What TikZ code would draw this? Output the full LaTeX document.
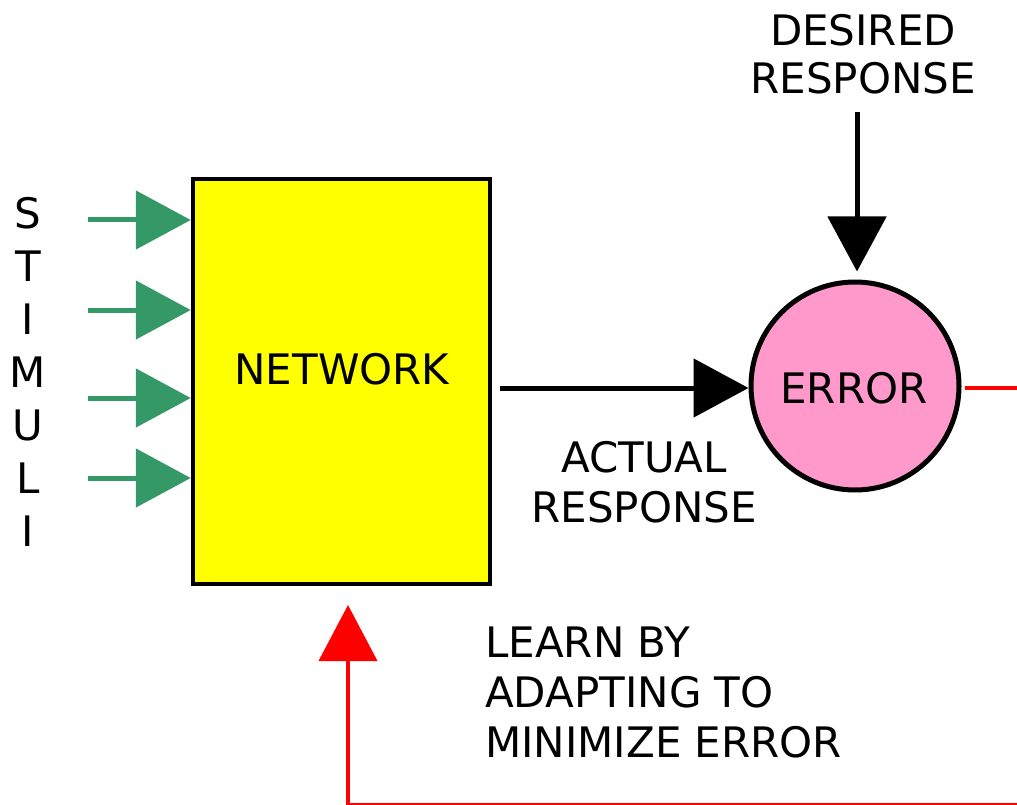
\documentclass[tikz,border=0pt]{standalone}
\usepackage{fontspec}
\setmainfont{DejaVu Sans}
\usetikzlibrary{arrows.meta}
\definecolor{stimgreen}{HTML}{349966}
\definecolor{errpink}{HTML}{FF99CC}
\definecolor{netyellow}{HTML}{FFFF00}
\tikzset{
  lbl/.style={font=\fontsize{42}{50}\selectfont, inner sep=0pt, align=center},
  garrow/.style={draw=stimgreen, line width=5pt, -{Triangle[length=55pt,width=58pt]}},
  barrow/.style={draw=black, line width=5pt, -{Triangle[length=55pt,width=58pt]}},
  rarrow/.style={draw=red, line width=4pt, -{Triangle[length=56pt,width=58pt]}},
}
\begin{document}
\begin{tikzpicture}[x=1pt,y=-1pt]
\useasboundingbox (0,0) rectangle (1017,805);
\node[draw=black, fill=netyellow, line width=4.5pt, minimum width=297pt, minimum height=405pt, inner sep=0pt] (net) at (341.5,381.5) {};
\node[lbl] (nettxt) at (342,369) {NETWORK};
\node[draw=black, fill=errpink, line width=5pt, circle, minimum size=208pt, inner sep=0pt] (err) at (855,386) {};
\node[lbl] (errtxt) at (854,388) {ERROR};
\node[lbl, font=\fontsize{42}{53}\selectfont] (stim) at (28,372) {S\\T\\I\\M\\U\\L\\I};
\node[lbl, font=\fontsize{42}{48}\selectfont] (des) at (863,54) {DESIRED\\RESPONSE};
\node[lbl] (act) at (644,482) {ACTUAL\\RESPONSE};
\node[lbl, align=left, anchor=west] (learn) at (485,692) {LEARN BY\\ADAPTING TO\\MINIMIZE ERROR};
\foreach \i/\y in {1/220,2/310,3/398,4/478}{
  \coordinate (s\i) at (88,\y);
  \draw[garrow] (s\i) -- (net.west |- s\i);
}
\coordinate (a0) at (500,388);
\draw[barrow] (a0) -- (err.west |- a0);
\coordinate (d0) at (857,112);
\draw[barrow, shorten >=8pt] (d0) -- (err.north -| d0);
\coordinate (c1) at (1030,388);
\coordinate (c2) at (1030,805);
\coordinate (c3) at (348,805);
\coordinate (c4) at (348,605);
\draw[rarrow] ([xshift=3pt]err.east |- c1) -- (c1) -- (c2) -- (c3) -- (c4);
\end{tikzpicture}
\end{document}
